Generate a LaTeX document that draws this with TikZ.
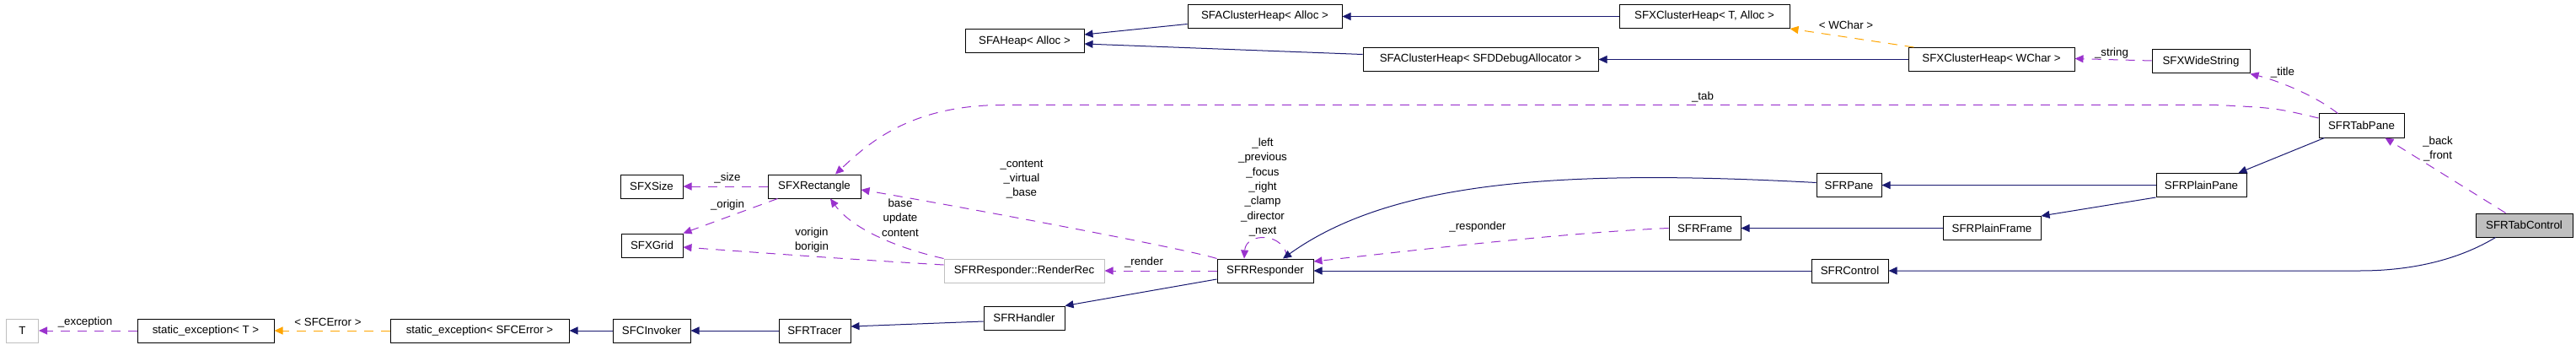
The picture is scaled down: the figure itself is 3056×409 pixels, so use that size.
\documentclass[tikz,border=0pt]{standalone}
\usepackage{fontspec}
\setmainfont{Liberation Sans}
\usetikzlibrary{arrows.meta}
\definecolor{inhblue}{HTML}{191970}
\definecolor{usepurple}{HTML}{9A32CD}
\definecolor{tplorange}{HTML}{FFA500}
\definecolor{extgray}{HTML}{BFBFBF}

\begin{document}
\begin{tikzpicture}[x=1pt, y=-1pt, font=\fontsize{13.3}{17.3}\selectfont,
  cls/.style={draw, line width=1pt, minimum height=28pt, inner sep=0pt},
  ext/.style={cls, draw=extgray},
  inh/.style={inhblue, line width=1pt, -{Triangle[length=10pt,width=9pt]}},
  usage/.style={usepurple, line width=1pt, dash pattern=on 11pt off 9pt, -{Triangle[length=10pt,width=9pt]}},
  tpl/.style={tplorange, line width=1pt, dash pattern=on 11pt off 9pt, -{Triangle[length=10pt,width=9pt]}},
  lbl/.style={align=center, inner sep=0pt}]
\useasboundingbox (0,0) rectangle (3056,409);
\foreach \id/\x/\y/\w/\txt in {
  sexT/244/392/162/{static\_exception< T >},
  sexErr/569/392/212/{static\_exception< SFCError >},
  invoker/773/392/92/SFCInvoker,
  tracer/966.5/392/85/SFRTracer,
  handler/1215/377/96/SFRHandler,
  responder/1501/321/114/SFRResponder,
  rect/966/221/110/SFXRectangle,
  size/773/221/74/SFXSize,
  grid/773.5/291/73/SFXGrid,
  aheap/1215.5/49/141/{SFAHeap< Alloc >},
  acluster/1500.5/19.5/183/{SFAClusterHeap< Alloc >},
  adebug/1756.5/70.5/279/{SFAClusterHeap< SFDDebugAllocator >},
  xcluster/2022/19.5/202/{SFXClusterHeap< T, Alloc >},
  xwchar/2362.5/70.5/197/{SFXClusterHeap< WChar >},
  wstring/2611/73/116/SFXWideString,
  tabpane/2801.5/149/101/SFRTabPane,
  plainpane/2611.5/219.5/107/SFRPlainPane,
  pane/2193.5/219.5/77/SFRPane,
  frame/2022.5/270.5/85/SFRFrame,
  plainframe/2363/270.5/116/SFRPlainFrame,
  control/2194.5/321/91/SFRControl}
  \node[cls, minimum width=\w pt] (\id) at (\x,\y) {\txt};
\node[ext, minimum width=38pt] (tT) at (26.5,392) {T};
\node[ext, minimum width=190pt] (render) at (1215,321) {SFRResponder::RenderRec};
\node[cls, fill=extgray, minimum width=115pt] (tabcontrol) at (2994.5,267) {SFRTabControl};

\draw[usage] (sexT) -- (tT);
\draw[tpl] (sexErr) -- (sexT);
\draw[inh] (invoker) -- (sexErr);
\draw[inh] (tracer) -- (invoker);
\draw[inh] ([yshift=-4pt]handler.west) -- ([yshift=5pt]tracer.east);
\draw[inh] ([yshift=-10pt]responder.west) -- (handler.north east);
\draw[usage] (responder) -- (render);
\draw[usage] (render.north west) .. controls (1060,293) and (1010,270) .. ([xshift=19pt]rect.south);
\draw[usage] ([yshift=7pt]render.west) .. controls (1000,307) and (880,298) .. ([yshift=-2pt]grid.east);
\draw[usage] (responder.north west) .. controls (1400,293) and (1100,238) .. ([yshift=-4pt]rect.east);
\draw[usage] (rect) -- (size);
\draw[usage] ([xshift=12pt]rect.south west) -- (grid.north east);
\draw[usage] ([xshift=26pt]responder.north) .. controls (1525,275) and (1478,275) .. ([xshift=-25pt]responder.north);
\draw[usage] ([yshift=9pt]tabpane.west) .. controls (2700,128) .. (2630,124.5) -- (1190,124.5) .. controls (1080,124.5) and (1030,170) .. ([xshift=25pt]rect.north);
\draw[usage] (frame.west) .. controls (1850,276) and (1650,300) .. ([yshift=11pt]responder.east);
\draw[inh] ([yshift=3pt]pane.west) .. controls (1850,200) and (1650,215) .. ([xshift=21pt]responder.north);
\draw[inh] (control) -- (responder);
\draw[inh] (plainframe) -- (frame);
\draw[inh] (plainpane) -- (pane);
\draw[inh] (plainpane.south west) -- (plainframe.north east);
\draw[inh] ([xshift=7pt]tabpane.south west) -- ([xshift=44pt]plainpane.north);
\draw[inh] ([xshift=-34pt]tabcontrol.south) .. controls (2910,312) and (2850,321) .. (2800,321) -- (control.east);
\draw[usage] ([xshift=-22pt]tabcontrol.north) -- ([xshift=28pt]tabpane.south);
\draw[usage] ([xshift=-28pt]tabpane.north) .. controls (2745,112) and (2700,95) .. (wstring.south east);
\draw[usage] ([yshift=1pt]wstring.west) -- ([yshift=1pt]xwchar.east);
\draw[tpl] ([xshift=7pt]xwchar.north west) -- (xcluster.south east);
\draw[inh] (xwchar) -- (adebug);
\draw[inh] (xcluster) -- (acluster);
\draw[inh] ([yshift=-9pt]acluster.west) -- ([yshift=8pt]aheap.east);
\draw[inh] ([yshift=6pt]adebug.west) -- ([yshift=-3pt]aheap.east);

\node[lbl] (lexc) at (101,382) {\_exception};
\node[lbl] (lerr) at (389,382) {< SFCError >};
\node[lbl] (lsize) at (863,211) {\_size};
\node[lbl] (lorig) at (863,243) {\_origin};
\node[lbl] (lvb) at (963,284.5) {vorigin\\borigin};
\node[lbl] (lbuc) at (1068,258) {base\\update\\content};
\node[lbl] (lcvb) at (1212,212.5) {\_content\\\_virtual\\\_base};
\node[lbl] (lrend) at (1357,311) {\_render};
\node[lbl] (lself) at (1498,222) {\_left\\\_previous\\\_focus\\\_right\\\_clamp\\\_director\\\_next};
\node[lbl] (lresp) at (1753,269) {\_responder};
\node[lbl] (ltab) at (2020,115) {\_tab};
\node[lbl] (lstr) at (2505,63) {\_string};
\node[lbl] (lwch) at (2190,30) {< WChar >};
\node[lbl] (ltit) at (2708,86) {\_title};
\node[lbl] (lbf) at (2892,176.5) {\_back\\\_front};
\end{tikzpicture}
\end{document}
